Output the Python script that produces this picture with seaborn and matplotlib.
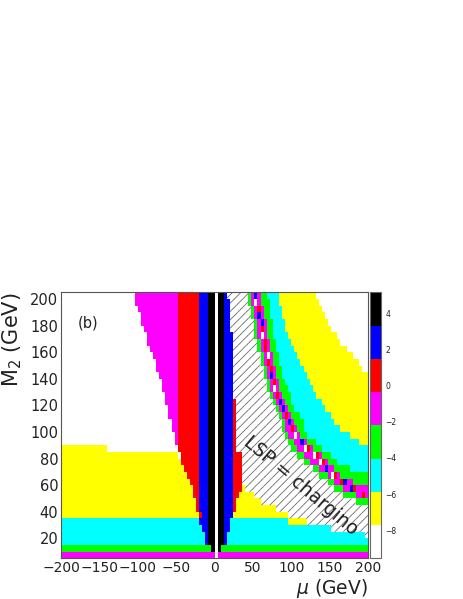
import numpy as np
import pandas as pd
import matplotlib
matplotlib.use('Agg')
import matplotlib.pyplot as plt
import seaborn as sns
from matplotlib.colors import ListedColormap

sns.set_style('white')
plt.rcParams['font.family'] = ['DejaVu Sans']
plt.rcParams['hatch.linewidth'] = 0.6

# mu in 4 GeV bins, M2 in 5 GeV bins
mu_lo, mu_hi, mu_step = -200, 200, 4
m2_lo, m2_hi, m2_step = 5, 205, 5

# palette from the lowest level (white) to the highest (black)
level_codes = ['w', 'y', 'c', 'g', 'm', 'r', 'b', 'k']
level_colors = ['#ffffff', '#ffff00', '#00ffff', '#00ff00',
                '#ff00ff', '#ff0000', '#0000ff', '#000000']
z_min, z_max = -9.55, 5.16
cbar_ticks = [-8, -6, -4, -2, 0, 2, 4]

mu_ticks = [-200, -150, -100, -50, 0, 50, 100, 150, 200]
m2_ticks = [20, 40, 60, 80, 100, 120, 140, 160, 180, 200]

# one line per M2 bin (lower edge): colour code and the mu where it starts
# h = hatched area (LSP = chargino)
rows = {
    200: "w:-200 m:-104 r:-48 b:-20 k:-8 w:0 k:4 b:12 h:16 g:44 m:48 b:52 m:56 g:60 c:68 y:84 w:132",
    195: "w:-200 m:-104 r:-48 b:-20 k:-8 w:0 k:4 b:12 h:20 g:44 m:48 w:52 m:56 g:60 c:72 y:84 w:136",
    190: "w:-200 m:-100 r:-48 b:-20 k:-8 w:0 k:4 b:12 h:20 g:48 m:52 r:56 m:60 g:64 c:72 y:88 w:140",
    185: "w:-200 m:-96 r:-48 b:-20 k:-8 w:0 k:4 b:12 h:20 g:48 m:52 b:56 m:60 g:64 c:72 y:88 w:144",
    180: "w:-200 m:-96 r:-48 b:-20 k:-8 w:0 k:4 b:12 h:20 g:52 m:56 b:60 m:64 g:68 c:76 y:92 w:148",
    175: "w:-200 m:-92 r:-48 b:-20 k:-8 w:0 k:4 b:12 h:20 g:52 m:56 r:60 m:64 g:68 c:76 y:92 w:152",
    170: "w:-200 m:-88 r:-48 b:-20 k:-8 w:0 k:4 b:12 h:24 g:52 m:56 w:60 m:64 g:68 c:76 y:96 w:160",
    165: "w:-200 m:-88 r:-48 b:-20 k:-8 w:0 k:4 b:12 h:24 g:56 m:60 r:64 m:68 g:72 c:80 y:100 w:164",
    160: "w:-200 m:-84 r:-48 b:-20 k:-8 w:0 k:4 b:12 h:24 g:56 m:60 r:64 m:68 g:72 c:80 y:104 w:172",
    155: "w:-200 m:-80 r:-48 b:-20 k:-8 w:0 k:4 b:12 h:24 g:60 m:64 w:68 m:72 g:76 c:84 y:108 w:180",
    150: "w:-200 m:-76 r:-48 b:-20 k:-8 w:0 k:4 b:12 h:24 g:60 m:64 r:68 m:72 g:76 c:84 y:112 w:188",
    145: "w:-200 m:-76 r:-48 b:-20 k:-8 w:0 k:4 b:12 h:24 g:64 m:68 r:72 m:76 g:80 c:88 y:116 w:192",
    140: "w:-200 m:-72 r:-48 b:-20 k:-8 w:0 k:4 b:12 h:24 g:64 m:68 b:72 m:76 g:80 c:88 y:120",
    135: "w:-200 m:-68 r:-48 b:-20 k:-8 w:0 k:4 b:12 h:24 g:68 m:72 r:76 m:80 g:84 c:92 y:124",
    130: "w:-200 m:-68 r:-48 b:-20 k:-8 w:0 k:4 b:12 h:24 g:68 m:72 w:76 m:80 g:84 c:96 y:128",
    125: "w:-200 m:-64 r:-48 b:-20 k:-8 w:0 k:4 b:12 h:24 g:72 m:76 r:80 m:84 g:88 c:100 y:132",
    120: "w:-200 m:-64 r:-48 b:-20 k:-8 w:0 k:4 b:12 r:24 h:28 g:76 m:80 b:84 m:88 g:92 c:100 y:140",
    115: "w:-200 m:-60 r:-48 b:-20 k:-8 w:0 k:4 b:12 r:24 h:28 g:80 m:84 b:88 m:92 g:96 c:104 y:144",
    110: "w:-200 m:-60 r:-48 b:-20 k:-8 w:0 k:4 b:12 r:24 h:28 g:84 m:88 r:92 m:96 g:100 c:112 y:152",
    105: "w:-200 m:-56 r:-48 b:-20 k:-8 w:0 k:4 b:12 r:24 h:28 g:88 m:92 b:96 m:100 g:104 c:116 y:156",
    100: "w:-200 m:-56 r:-48 b:-20 k:-8 w:0 k:4 b:12 r:24 h:28 g:88 m:92 r:100 m:104 g:108 c:116 y:164",
    95: "w:-200 m:-52 r:-48 b:-20 k:-8 w:0 k:4 b:12 r:24 h:28 g:92 m:96 w:104 m:108 g:112 c:120 y:176",
    90: "w:-200 m:-52 r:-48 b:-20 k:-8 w:0 k:4 b:12 r:24 h:28 g:96 m:104 b:112 m:116 g:120 c:132 y:188",
    85: "y:-200 w:-140 r:-48 b:-20 k:-8 w:0 k:4 b:12 r:24 h:28 g:100 m:108 w:116 r:120 m:124 g:128 c:140",
    80: "y:-200 w:-48 r:-44 b:-20 k:-8 w:0 k:4 b:12 r:24 h:36 g:108 m:116 w:128 r:132 m:136 g:140 c:152",
    75: "y:-200 r:-44 b:-20 k:-8 w:0 k:4 b:12 r:24 h:36 g:116 m:124 w:136 r:140 m:144 g:148 c:160",
    70: "y:-200 r:-40 b:-20 k:-8 w:0 k:4 b:12 r:24 h:36 g:128 m:136 b:144 m:148 g:156 c:176",
    65: "y:-200 r:-36 b:-20 k:-8 w:0 k:4 b:12 r:24 h:36 g:136 m:148 w:152 r:156 m:160 g:164",
    60: "y:-200 r:-32 b:-20 k:-8 w:0 k:4 b:12 r:24 h:36 g:148 m:156 r:164 b:168 m:172 g:180",
    55: "y:-200 r:-28 b:-20 k:-8 w:0 k:4 b:12 r:24 y:36 h:40 g:156 m:168 b:176 r:180 m:184",
    50: "y:-200 r:-28 b:-20 k:-8 w:0 k:4 b:12 r:24 y:32 h:52 g:168 m:184 r:192 m:196",
    45: "y:-200 r:-24 b:-20 k:-8 w:0 k:4 b:12 r:24 y:28 h:60 g:184",
    40: "y:-200 r:-24 b:-20 k:-8 w:0 k:4 b:12 r:24 y:28 h:80",
    35: "y:-200 r:-20 b:-16 k:-8 w:0 k:4 b:12 y:24 h:96",
    30: "c:-200 b:-20 k:-8 w:0 k:4 b:12 c:20 y:96 h:120",
    25: "c:-200 b:-16 k:-8 w:0 k:4 b:12 c:20 h:152",
    20: "c:-200 b:-12 k:-8 w:0 k:4 b:12 c:16 h:196",
    15: "c:-200 b:-12 k:-8 w:0 k:4 b:12 c:16",
    10: "g:-200 k:-4 w:0 k:4 g:8",
    5: "m:-200 w:0 m:4",
}

# build the cell table
mu_centres = np.arange(mu_lo + mu_step / 2, mu_hi, mu_step)
band = (z_max - z_min) / len(level_codes)
level_value = {c: z_min + (i + 0.5) * band for i, c in enumerate(level_codes)}
level_value['h'] = level_value['w']

m2_rows = sorted(rows, reverse=True)
values, hatched = [], []
for m2 in m2_rows:
    toks = [t.split(':') for t in rows[m2].split()]
    codes = [t[0] for t in toks]
    starts = [float(t[1]) for t in toks]
    pick = np.searchsorted(starts, mu_centres, side='right') - 1
    row_codes = [codes[i] for i in pick]
    values.append([level_value[c] for c in row_codes])
    hatched.append([c == 'h' for c in row_codes])

df = pd.DataFrame(values, index=m2_rows, columns=mu_centres)
hatched = np.array(hatched)
ny, nx = hatched.shape


def mu_pos(v):
    return (v - mu_lo) / mu_step


def m2_pos(v):
    return (m2_hi - v) / m2_step


fig = plt.figure(figsize=(4.63, 5.99), dpi=100)
ax = fig.add_axes([0.1318, 0.0679, 0.663, 0.444])
cax = fig.add_axes([0.7991, 0.0679, 0.0238, 0.444])

sns.heatmap(df, ax=ax, cbar_ax=cax, cmap=ListedColormap(level_colors),
            vmin=z_min, vmax=z_max, xticklabels=False, yticklabels=False,
            cbar_kws={'ticks': cbar_ticks})
cb = ax.collections[0].colorbar

# hatching for the LSP = chargino region
mask = np.ma.masked_where(~hatched, np.ones(hatched.shape))
ax.pcolor(np.arange(nx + 1), np.arange(ny + 1), mask,
          cmap=ListedColormap(['none']), edgecolors='#666666',
          linewidth=0, hatch='////')
ax.set_xlim(0, nx)
ax.set_ylim(ny, 0)

# axes ticks, PAW style (inside)
ax.set_xticks([mu_pos(v) for v in mu_ticks])
ax.set_xticklabels([str(v).replace('-', '\u2212') for v in mu_ticks])
ax.set_xticks([mu_pos(v) for v in range(-200, 201, 10)], minor=True)
ax.set_yticks([m2_pos(v) for v in m2_ticks])
ax.set_yticklabels([str(v) for v in m2_ticks], rotation=0)
ax.set_yticks([m2_pos(v) for v in range(5, 206, 5)], minor=True)

ax.tick_params(which='both', direction='in', bottom=True, left=True,
               top=False, right=False, color='#333333',
               labelcolor='#222222', labelsize=10.5)
ax.tick_params(which='major', length=4.5, width=0.8)
ax.tick_params(which='minor', length=2.5, width=0.6)
ax.tick_params(axis='x', pad=2, labelsize=10)
ax.tick_params(axis='y', pad=2)

for s in ax.spines.values():
    s.set_visible(True)
    s.set_color('#555555')
    s.set_linewidth(0.8)

ax.set_ylabel(r'M$_2$ (GeV)', fontsize=15, loc='top', color='#222222')
ax.yaxis.set_label_coords(-0.12, 1.0)
ax.set_xlabel(r'$\mu$ (GeV)', fontsize=13.5, loc='right', color='#222222')
ax.xaxis.set_label_coords(1.0, -0.0705)

ax.text(mu_pos(112), m2_pos(60), 'LSP = chargino', rotation=-40,
        rotation_mode='anchor', ha='center', va='center',
        fontsize=13.5, color='#222222')
ax.text(mu_pos(-165), m2_pos(182), '(b)', ha='center', va='center',
        fontsize=10.5, color='#222222')

# colour scale
cb.outline.set_visible(True)
cb.outline.set_linewidth(0.8)
cb.outline.set_edgecolor('#666666')
cb.ax.tick_params(direction='in', length=8, width=0.6, color='#555555',
                  labelcolor='#222222', labelsize=5.5, pad=3)

fig.savefig('out.png', dpi=100)
